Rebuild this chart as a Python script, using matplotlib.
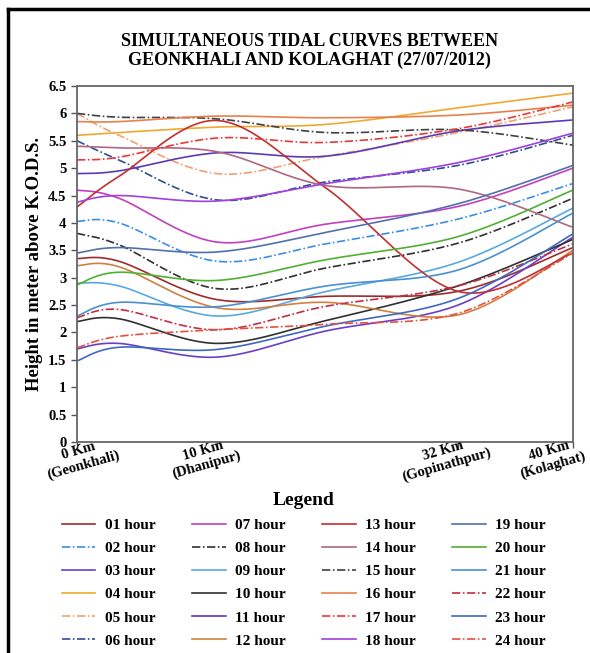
import numpy as np
import matplotlib
matplotlib.use("Agg")
import matplotlib.pyplot as plt
from matplotlib.lines import Line2D

plt.rcParams['font.family'] = ['Liberation Serif', 'DejaVu Serif']
plt.rcParams['font.weight'] = 'bold'
plt.rcParams['axes.labelweight'] = 'bold'

# labelled stations along the river
station_km = [0, 10, 32, 40]
station_labels = ['0 Km\n(Geonkhali)', '10 Km\n(Dhanipur)', '32 Km\n(Gopinathpur)', '40 Km\n(Kolaghat)']

# points the curves go through (km), incl. two unlabelled readings
distance_km = [0, 3, 10, 20, 32, 40]

# water level (m above K.O.D.S.) at each point, hour by hour
h01 = [3.35, 3.30, 2.60, 2.66, 2.75, 3.55]
h02 = [4.03, 4.00, 3.30, 3.62, 4.07, 4.72]
h03 = [1.70, 1.80, 1.55, 2.03, 2.50, 3.74]
h04 = [5.60, 5.65, 5.75, 5.80, 6.10, 6.37]
h05 = [6.00, 5.60, 4.90, 5.22, 5.65, 6.12]
h06 = [5.50, 5.15, 4.42, 4.75, 5.05, 5.60]
h07 = [4.60, 4.45, 3.65, 3.98, 4.30, 5.00]
h08 = [3.81, 3.60, 2.80, 3.18, 3.63, 4.45]
h09 = [2.90, 2.85, 2.30, 2.75, 3.28, 4.27]
h10 = [2.20, 2.25, 1.80, 2.22, 2.85, 3.70]
h11 = [4.90, 4.95, 5.28, 5.22, 5.68, 5.88]
h12 = [3.22, 3.20, 2.45, 2.55, 2.32, 3.50]
h13 = [4.29, 4.85, 5.87, 4.63, 2.75, 3.45]
h14 = [5.40, 5.37, 5.30, 4.68, 4.62, 3.92]
h15 = [6.00, 5.93, 5.90, 5.65, 5.70, 5.42]
h16 = [5.85, 5.85, 5.95, 5.92, 5.97, 6.15]
h17 = [5.15, 5.20, 5.55, 5.47, 5.72, 6.21]
h18 = [4.38, 4.50, 4.40, 4.72, 5.10, 5.64]
h19 = [3.45, 3.55, 3.47, 3.83, 4.35, 5.05]
h20 = [2.87, 3.10, 2.95, 3.33, 3.75, 4.60]
h21 = [2.30, 2.55, 2.47, 2.85, 3.14, 4.18]
h22 = [2.27, 2.42, 2.05, 2.48, 2.85, 3.62]
h23 = [1.48, 1.73, 1.69, 2.12, 2.62, 3.80]
h24 = [1.72, 1.93, 2.05, 2.15, 2.35, 3.45]

series = [h01, h02, h03, h04, h05, h06, h07, h08, h09, h10, h11, h12,
          h13, h14, h15, h16, h17, h18, h19, h20, h21, h22, h23, h24]
labels = ['%02d hour' % (i + 1) for i in range(24)]

colors = ['#9E2B2B', '#3A8EE6', '#6A3FC8', '#F0A830', '#F0A070', '#2F4F8F',
          '#C040C0', '#303030', '#5AA8E0', '#303030', '#5B3BB5', '#D08040',
          '#C03030', '#B06880', '#404040', '#E8804A', '#E83838', '#A040E0',
          '#5070B0', '#50B030', '#4A90D0', '#C03040', '#3D6AC0', '#E85040']
dashdot = [2, 5, 6, 8, 15, 17, 22, 24]

# the distance axis is not linear in the original, stations sit at these spots
axis_pos = [0, 140, 381, 496]
YS = 54.8


def fwd(x):
    return np.interp(x, station_km, axis_pos)


def inv(p):
    return np.interp(p, axis_pos, station_km)


def smooth(xs, ys, n=50):
    # excel style smoothed line (bezier through the points)
    pts = np.column_stack([fwd(np.array(xs, float)), np.array(ys) * YS])
    out = []
    m = len(pts)
    t = np.linspace(0, 1, n)[:, None]
    for i in range(m - 1):
        p0 = pts[max(i - 1, 0)]
        p1 = pts[i]
        p2 = pts[i + 1]
        p3 = pts[min(i + 2, m - 1)]
        c1 = p1 + (p2 - p0) / 6
        c2 = p2 - (p3 - p1) / 6
        seg = (1 - t) ** 3 * p1 + 3 * (1 - t) ** 2 * t * c1 + 3 * (1 - t) * t ** 2 * c2 + t ** 3 * p2
        out.append(seg if i == 0 else seg[1:])
    seg = np.vstack(out)
    return inv(seg[:, 0]), seg[:, 1] / YS


fig = plt.figure(figsize=(5.9, 6.53), dpi=100)
ax = fig.add_axes([77 / 590, 1 - 442 / 653, 496 / 590, 356 / 653])
ax.set_xscale('function', functions=(fwd, inv))

for i, s in enumerate(series):
    xx, yy = smooth(distance_km, s)
    if (i + 1) in dashdot:
        ax.plot(xx, yy, color=colors[i], lw=1.2, dashes=(5, 1.5, 1, 1.5), label=labels[i])
    else:
        ax.plot(xx, yy, color=colors[i], lw=1.2, label=labels[i])

ax.set_xlim(0, 40)
ax.set_ylim(0, 6.5)
yt = np.arange(0, 6.51, 0.5)
ax.set_yticks(yt)
ax.set_yticklabels(['%g' % v for v in yt], fontsize=10.5)
ax.set_xticks(station_km)
ax.set_xticklabels([])
ax.tick_params(axis='both', direction='out', length=4, width=1, color='#555555')
for sp in ax.spines.values():
    sp.set_color('#666666')
    sp.set_linewidth(1.3)

ax.set_ylabel('Height in meter above K.O.D.S.', fontsize=13.5, labelpad=4)

# station labels, tilted
offs = [4, -12, -13, -22]
for d, lab, o in zip(station_km, station_labels, offs):
    ax.annotate(lab, xy=(d, 0), xycoords=('data', 'axes fraction'),
                xytext=(o, -16), textcoords='offset pixels',
                ha='center', va='center', rotation=16, fontsize=10.5,
                multialignment='center', annotation_clip=False)

fig.text(0.524, 1 - 51 / 653, 'SIMULTANEOUS TIDAL CURVES BETWEEN\nGEONKHALI AND KOLAGHAT (27/07/2012)',
         ha='center', va='center', fontsize=13, linespacing=1.2)

leg = fig.legend(loc='upper center', bbox_to_anchor=(0.515, 1 - 481 / 653), ncol=4,
                 frameon=False, fontsize=11, title='Legend', title_fontsize=14,
                 handlelength=2.2, handletextpad=0.6, columnspacing=2.4,
                 labelspacing=0.62, borderpad=0.2)
leg.get_title().set_fontweight('bold')

# black frame of the figure
fig.add_artist(Line2D([8 / 590, 8 / 590], [0, 1 - 9 / 653], color='black', lw=2.5, transform=fig.transFigure))
fig.add_artist(Line2D([8 / 590, 1], [1 - 9 / 653, 1 - 9 / 653], color='black', lw=2.5, transform=fig.transFigure))

fig.savefig('out.png', dpi=100)
